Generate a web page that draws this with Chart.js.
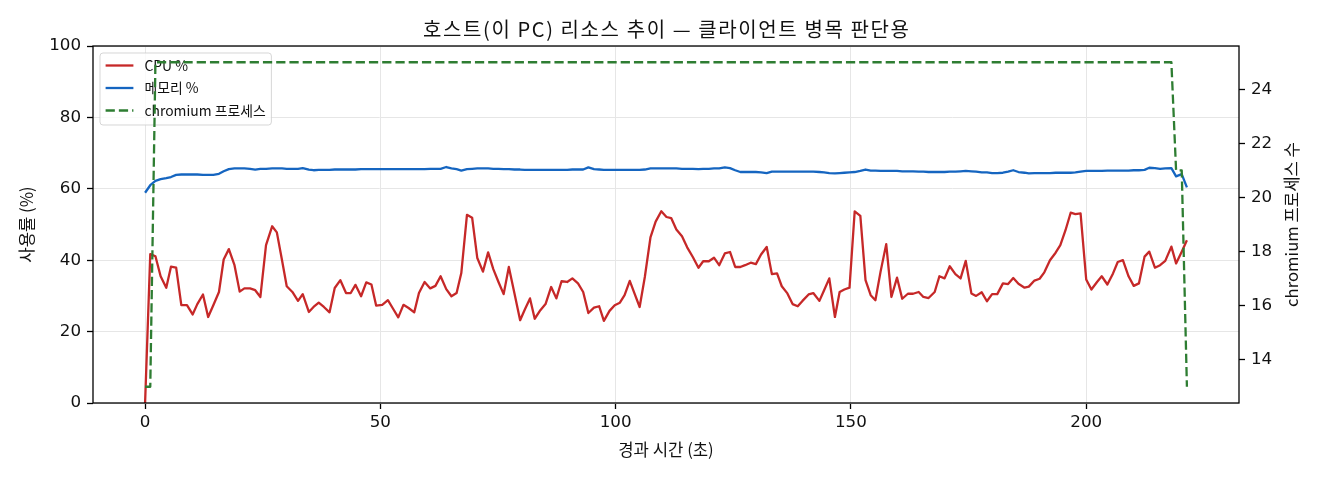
<!DOCTYPE html>
<html><head><meta charset="utf-8">
<script src="https://cdn.jsdelivr.net/npm/chart.js@4.4.1/dist/chart.umd.min.js"></script>
<style>html,body{margin:0;padding:0;background:#fff;}#wrap{width:1320px;height:480px;}</style>
</head><body><div id="wrap"><canvas id="c" width="1320" height="480"></canvas></div>
<script>
const timeSec = [
0, 1.1, 2.2, 3.3, 4.5, 5.5, 6.6, 7.7, 8.9, 10.1,
11.1, 12.3, 13.4, 14.5, 15.7, 16.7, 17.8, 19.0, 20.1, 21.1,
22.3, 23.4, 24.5, 25.7, 27.0, 28.0, 29.1, 30.1, 31.3, 32.5,
33.5, 34.8, 35.8, 36.9, 38.0, 39.2, 40.3, 41.5, 42.7, 43.7,
44.7, 45.9, 47.0, 48.1, 49.1, 50.4, 51.6, 52.7, 53.8, 54.9,
56.0, 57.2, 58.2, 59.4, 60.6, 61.7, 62.8, 64.0, 65.1, 66.2,
67.2, 68.4, 69.5, 70.6, 71.8, 72.9, 74.0, 75.1, 76.2, 77.3,
78.5, 79.7, 80.7, 81.8, 82.8, 84.0, 85.1, 86.3, 87.4, 88.5,
89.7, 90.8, 92.0, 93.1, 94.2, 95.4, 96.5, 97.5, 98.7, 99.8,
100.9, 101.9, 103.0, 104.0, 105.1, 106.2, 107.4, 108.5, 109.7, 110.8,
111.8, 112.9, 114.1, 115.2, 116.4, 117.6, 118.6, 119.8, 120.9, 122.0,
123.2, 124.3, 125.4, 126.5, 127.5, 128.7, 129.8, 130.9, 132.1, 133.2,
134.3, 135.3, 136.5, 137.6, 138.7, 139.7, 141.0, 142.0, 143.3, 144.3,
145.4, 146.6, 147.6, 148.6, 149.7, 150.8, 152.0, 153.1, 154.2, 155.2,
156.3, 157.5, 158.6, 159.8, 160.9, 162.1, 163.2, 164.4, 165.4, 166.5,
167.8, 168.8, 169.9, 171.0, 172.2, 173.3, 174.4, 175.6, 176.6, 177.8,
178.9, 180.0, 181.1, 182.3, 183.4, 184.5, 185.6, 186.9, 187.8, 189.0,
190.1, 191.1, 192.3, 193.5, 194.5, 195.6, 196.7, 197.7, 198.8, 200.0,
201.1, 202.3, 203.3, 204.5, 205.7, 206.7, 207.8, 209.0, 210.1, 211.2,
212.4, 213.4, 214.6, 215.7, 216.8, 218.1, 219.1, 220.3, 221.4
];
const cpuPct = [
0.0, 41.7, 41.1, 35.5, 32.3, 38.2, 37.9, 27.4, 27.4, 24.8,
27.7, 30.4, 24.1, 27.4, 31.1, 40.2, 43.1, 38.6, 31.2, 32.1,
32.1, 31.6, 29.7, 44.2, 49.5, 47.8, 40.0, 32.7, 31.1, 28.6,
30.5, 25.5, 26.9, 28.1, 26.9, 25.4, 32.2, 34.4, 30.8, 30.8,
33.1, 29.9, 33.8, 33.2, 27.3, 27.5, 28.8, 26.4, 24.0, 27.5,
26.6, 25.4, 30.8, 33.9, 32.1, 32.8, 35.5, 31.9, 29.9, 30.8,
36.4, 52.7, 51.9, 40.6, 36.8, 42.2, 37.5, 33.9, 30.5, 38.1,
30.7, 23.2, 26.2, 29.3, 23.6, 26.0, 27.7, 32.5, 29.3, 34.1,
33.9, 34.9, 33.5, 31.1, 25.2, 26.7, 27.1, 23.0, 25.8, 27.4,
28.1, 30.2, 34.2, 30.7, 26.9, 35.3, 46.4, 50.8, 53.7, 52.1,
51.8, 48.6, 46.7, 43.6, 40.9, 37.9, 39.7, 39.7, 40.7, 38.6,
41.9, 42.3, 38.1, 38.1, 38.6, 39.3, 38.9, 41.6, 43.7, 36.1,
36.3, 32.7, 30.7, 27.7, 27.1, 28.6, 30.4, 30.8, 28.6, 31.6,
34.9, 24.1, 31.1, 31.8, 32.3, 53.7, 52.4, 34.4, 30.2, 28.8,
36.8, 44.5, 29.7, 35.1, 29.2, 30.6, 30.6, 31.1, 29.7, 29.4,
31.1, 35.5, 34.9, 38.3, 36.1, 34.9, 39.8, 30.7, 30.0, 31.0,
28.5, 30.5, 30.5, 33.5, 33.3, 35.0, 33.4, 32.3, 32.6, 34.3,
34.8, 36.6, 40.0, 42.1, 44.2, 48.4, 53.3, 52.9, 53.1, 34.6,
31.8, 33.9, 35.5, 33.2, 36.3, 39.5, 40.0, 35.5, 32.8, 33.5,
41.0, 42.4, 37.9, 38.6, 39.8, 43.8, 39.1, 42.4, 45.6
];
const memPct = [
58.9, 61.0, 62.2, 62.7, 63.0, 63.3, 63.9, 64.0, 64.0, 64.0,
64.0, 63.9, 63.9, 63.9, 64.2, 64.9, 65.5, 65.7, 65.7, 65.7,
65.6, 65.4, 65.6, 65.6, 65.7, 65.7, 65.7, 65.6, 65.6, 65.6,
65.8, 65.4, 65.2, 65.3, 65.3, 65.3, 65.4, 65.4, 65.4, 65.4,
65.4, 65.5, 65.5, 65.5, 65.5, 65.5, 65.5, 65.5, 65.5, 65.5,
65.5, 65.5, 65.5, 65.5, 65.6, 65.6, 65.6, 66.1, 65.7, 65.5,
65.1, 65.5, 65.6, 65.7, 65.7, 65.7, 65.6, 65.6, 65.5, 65.5,
65.4, 65.4, 65.3, 65.3, 65.3, 65.3, 65.3, 65.3, 65.3, 65.3,
65.3, 65.4, 65.4, 65.4, 66.0, 65.5, 65.4, 65.3, 65.3, 65.3,
65.3, 65.3, 65.3, 65.3, 65.3, 65.4, 65.7, 65.7, 65.7, 65.7,
65.7, 65.7, 65.6, 65.6, 65.6, 65.5, 65.6, 65.6, 65.7, 65.7,
66.0, 65.8, 65.2, 64.7, 64.7, 64.7, 64.7, 64.6, 64.4, 64.8,
64.8, 64.8, 64.8, 64.8, 64.8, 64.8, 64.8, 64.8, 64.7, 64.6,
64.4, 64.3, 64.4, 64.5, 64.6, 64.7, 65.0, 65.4, 65.1, 65.1,
65.0, 65.0, 65.0, 65.0, 64.9, 64.9, 64.9, 64.8, 64.8, 64.7,
64.7, 64.7, 64.7, 64.8, 64.8, 64.9, 65.0, 64.9, 64.8, 64.6,
64.6, 64.4, 64.4, 64.5, 64.8, 65.2, 64.7, 64.5, 64.3, 64.4,
64.4, 64.4, 64.4, 64.5, 64.5, 64.5, 64.5, 64.6, 64.8, 65.0,
65.0, 65.0, 65.0, 65.1, 65.1, 65.1, 65.1, 65.1, 65.2, 65.2,
65.3, 65.9, 65.8, 65.6, 65.7, 65.8, 63.5, 64.1, 60.4
];
const chromiumProcs = [
13, 13, 25, 25, 25, 25, 25, 25, 25, 25,
25, 25, 25, 25, 25, 25, 25, 25, 25, 25,
25, 25, 25, 25, 25, 25, 25, 25, 25, 25,
25, 25, 25, 25, 25, 25, 25, 25, 25, 25,
25, 25, 25, 25, 25, 25, 25, 25, 25, 25,
25, 25, 25, 25, 25, 25, 25, 25, 25, 25,
25, 25, 25, 25, 25, 25, 25, 25, 25, 25,
25, 25, 25, 25, 25, 25, 25, 25, 25, 25,
25, 25, 25, 25, 25, 25, 25, 25, 25, 25,
25, 25, 25, 25, 25, 25, 25, 25, 25, 25,
25, 25, 25, 25, 25, 25, 25, 25, 25, 25,
25, 25, 25, 25, 25, 25, 25, 25, 25, 25,
25, 25, 25, 25, 25, 25, 25, 25, 25, 25,
25, 25, 25, 25, 25, 25, 25, 25, 25, 25,
25, 25, 25, 25, 25, 25, 25, 25, 25, 25,
25, 25, 25, 25, 25, 25, 25, 25, 25, 25,
25, 25, 25, 25, 25, 25, 25, 25, 25, 25,
25, 25, 25, 25, 25, 25, 25, 25, 25, 25,
25, 25, 25, 25, 25, 25, 25, 25, 25, 25,
25, 25, 25, 25, 25, 25, 21, 21, 13
];
const xTicks = [0, 50, 100, 150, 200];
const leftTicks = [0, 20, 40, 60, 80, 100];
const rightTicks = [14, 16, 18, 20, 22, 24];
const seriesLabels = ['CPU %', '메모리 %', 'chromium 프로세스'];
const seriesColors = ['#c62828', '#1565c0', '#2e7d32'];
const chartTitle = '호스트(이 PC) 리소스 추이 — 클라이언트 병목 판단용';
const xLabel = '경과 시간 (초)';
const yLeftLabel = '사용률 (%)';
const yRightLabel = 'chromium 프로세스 수';

// matplotlib-style 5% autoscale margins
const tMin = Math.min(...timeSec), tMax = Math.max(...timeSec);
const xMin = tMin - 0.05 * (tMax - tMin), xMax = tMax + 0.05 * (tMax - tMin);
const pMin = Math.min(...chromiumProcs), pMax = Math.max(...chromiumProcs);
const y2Min = pMin - 0.05 * (pMax - pMin), y2Max = pMax + 0.05 * (pMax - pMin);

const toXY = (vals) => vals.map((v, i) => ({x: timeSec[i], y: v}));

const TICK_FONT = {family: '"DejaVu Sans", "Noto Sans CJK KR", sans-serif', size: 16.7};
const LABEL_FONT = {family: '"Noto Sans CJK KR", "DejaVu Sans", sans-serif', size: 16.7};
const DASH = [9.25, 4];
const LW = 2.3;

const gridBase = {color: '#e6e6e6', lineWidth: 1, tickColor: '#000', tickLength: 6, tickWidth: 1.3, drawTicks: true};

const decorPlugin = {
  id: 'decor',
  beforeDatasetsDraw(chart) {
    const ctx = chart.ctx, ca = chart.chartArea;
    ctx.save();
    const fs = 13.9;
    ctx.font = fs + 'px "Noto Sans CJK KR", "DejaVu Sans", sans-serif';
    const widths = seriesLabels.map(t => ctx.measureText(t).width);
    const bx = ca.left + 7, by = ca.top + 7;
    const pad = 5.6, hl = 27.8, htp = 11;
    const bw = pad + hl + htp + Math.max(...widths) + pad;
    const bh = 72;
    ctx.beginPath();
    ctx.roundRect(bx, by, bw, bh, 3);
    ctx.fillStyle = 'rgba(255,255,255,0.8)';
    ctx.fill();
    ctx.strokeStyle = 'rgba(204,204,204,0.8)';
    ctx.lineWidth = 1;
    ctx.stroke();
    const rows = [by + 12.5, by + 35, by + 57.5];
    seriesLabels.forEach((lab, i) => {
      ctx.beginPath();
      ctx.setLineDash(i === 2 ? DASH : []);
      ctx.strokeStyle = seriesColors[i];
      ctx.lineWidth = LW;
      ctx.moveTo(bx + pad, rows[i]);
      ctx.lineTo(bx + pad + hl, rows[i]);
      ctx.stroke();
      ctx.setLineDash([]);
      ctx.fillStyle = '#111';
      ctx.textAlign = 'left';
      ctx.textBaseline = 'middle';
      ctx.fillText(lab, bx + pad + hl + htp, rows[i]);
    });
    ctx.restore();
  },
  afterDatasetsDraw(chart) {
    const ctx = chart.ctx, ca = chart.chartArea;
    ctx.save();
    ctx.strokeStyle = '#000';
    ctx.lineWidth = 1.3;
    ctx.strokeRect(ca.left, ca.top, ca.right - ca.left, ca.bottom - ca.top);
    // chart title centred over the plot area
    ctx.font = '20px "Noto Sans CJK KR", "DejaVu Sans", sans-serif';
    ctx.fillStyle = '#111';
    ctx.textAlign = 'center';
    ctx.textBaseline = 'middle';
    try { ctx.letterSpacing = '1.6px'; } catch (e) {}
    ctx.fillText(chartTitle, (ca.left + ca.right) / 2 + 0.8, 29);
    try { ctx.letterSpacing = '0px'; } catch (e) {}
    // right axis title, reading bottom-to-top like matplotlib
    ctx.translate(1292, (ca.top + ca.bottom) / 2);
    ctx.rotate(-Math.PI / 2);
    ctx.font = LABEL_FONT.size + 'px ' + LABEL_FONT.family;
    ctx.fillText(yRightLabel, 0, 0);
    ctx.restore();
  }
};

new Chart(document.getElementById('c'), {
  type: 'line',
  data: {
    datasets: [
      {label: seriesLabels[2], data: toXY(chromiumProcs), yAxisID: 'y2', borderColor: seriesColors[2], borderWidth: LW, borderDash: DASH, pointRadius: 0, tension: 0, fill: false, order: 0, borderJoinStyle: 'round'},
      {label: seriesLabels[1], data: toXY(memPct), yAxisID: 'y', borderColor: seriesColors[1], borderWidth: LW, pointRadius: 0, tension: 0, fill: false, order: 1, borderJoinStyle: 'round'},
      {label: seriesLabels[0], data: toXY(cpuPct), yAxisID: 'y', borderColor: seriesColors[0], borderWidth: LW, pointRadius: 0, tension: 0, fill: false, order: 2, borderJoinStyle: 'round'}
    ]
  },
  options: {
    responsive: false,
    animation: false,
    devicePixelRatio: 1,
    layout: {padding: {top: 46, left: 0, right: 0, bottom: 0}},
    plugins: {
      legend: {display: false},
      tooltip: {enabled: false},
      title: {display: false}
    },
    scales: {
      x: {
        type: 'linear', position: 'bottom', min: xMin, max: xMax,
        afterBuildTicks: s => { s.ticks = xTicks.map(v => ({value: v})); },
        afterFit: s => { s.height = 77; },
        grid: gridBase,
        border: {display: false},
        ticks: {font: TICK_FONT, color: '#111', padding: 4, maxRotation: 0, autoSkip: false},
        title: {display: true, text: xLabel, font: LABEL_FONT, color: '#111', padding: {top: 0, bottom: 20}}
      },
      y: {
        type: 'linear', position: 'left', min: 0, max: 100,
        afterBuildTicks: s => { s.ticks = leftTicks.map(v => ({value: v})); },
        afterFit: s => { s.width = 93; },
        grid: gridBase,
        border: {display: false},
        ticks: {font: TICK_FONT, color: '#111', padding: 6, autoSkip: false},
        title: {display: true, text: yLeftLabel, font: LABEL_FONT, color: '#111', padding: {top: 17, bottom: 0}}
      },
      y2: {
        type: 'linear', position: 'right', min: y2Min, max: y2Max,
        afterBuildTicks: s => { s.ticks = rightTicks.map(v => ({value: v})); },
        afterFit: s => { s.width = 81; },
        grid: Object.assign({}, gridBase, {drawOnChartArea: false}),
        border: {display: false},
        ticks: {font: TICK_FONT, color: '#111', padding: 6, autoSkip: false}
      }
    }
  },
  plugins: [decorPlugin]
});
</script>
</body></html>
